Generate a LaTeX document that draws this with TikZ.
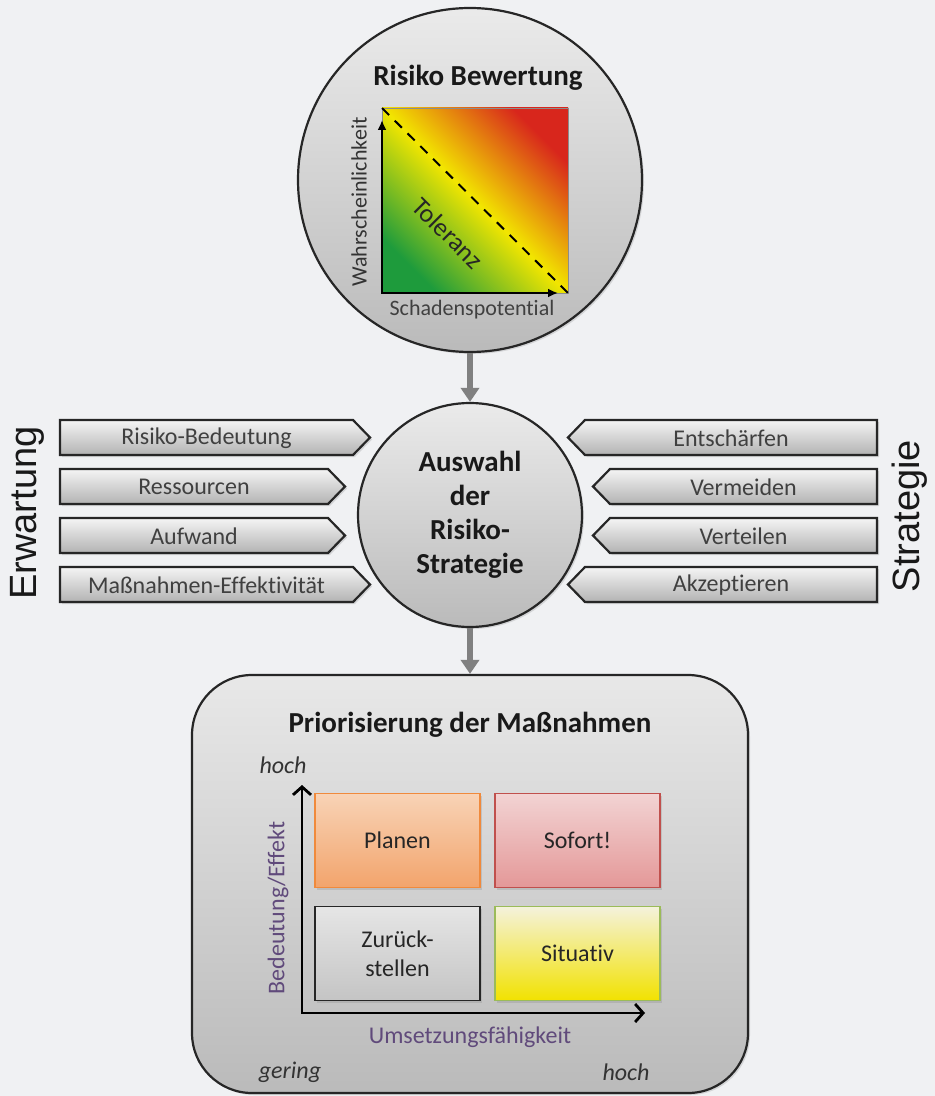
\documentclass[tikz,border=0pt]{standalone}
\usepackage{fontspec}
\setmainfont{Carlito}[Ligatures=NoCommon]
\newfontfamily\arialfont{Liberation Sans}
\usetikzlibrary{arrows.meta,shadows}

\definecolor{bgcol}{HTML}{F0F1F3}
\definecolor{riskred}{HTML}{D8261C}
\definecolor{riskyellow}{HTML}{F2E600}
\definecolor{riskgreen}{HTML}{1E9B3C}
\definecolor{axispurple}{HTML}{604A7B}
\definecolor{planborder}{HTML}{F08A3C}
\definecolor{plantop}{HTML}{F8D3B6}
\definecolor{planbottom}{HTML}{F2A46C}
\definecolor{nowborder}{HTML}{C0504D}
\definecolor{nowtop}{HTML}{F2D3D3}
\definecolor{nowbottom}{HTML}{E49898}
\definecolor{sitborder}{HTML}{9BBB59}
\definecolor{sittop}{HTML}{F4F2DC}
\definecolor{sitbottom}{HTML}{F2E200}

\tikzset{
  softshadow/.style={drop shadow={opacity=0.25,shadow xshift=1pt,shadow yshift=-1pt}},
  bubble/.style={circle, draw=black!85, line width=1.1pt, inner sep=0pt,
    top color=black!8, bottom color=black!27, softshadow},
  tagbox/.style={draw=black!85, line width=1.1pt, top color=black!4, bottom color=black!30, softshadow},
  tagtext/.style={font=\fontsize{12}{14}\selectfont, text=black!75},
  headline/.style={font=\fontsize{14.5}{17}\selectfont\bfseries, text=black!90},
  flowarrow/.style={draw=black!50, line width=3pt, -{Triangle[length=7pt,width=9pt]}},
  quad/.style={rectangle, line width=0.8pt, minimum width=82.5pt, minimum height=47pt,
    font=\fontsize{12}{14.5}\selectfont, text=black!85, align=center, softshadow},
  axislabel/.style={font=\fontsize{12}{14}\selectfont, text=axispurple},
  scalelabel/.style={font=\fontsize{12}{14}\selectfont\itshape, text=black!80},
  sidelabel/.style={font=\arialfont\fontsize{19}{22}\selectfont, text=black!90, rotate=90}
}

\begin{document}
\begin{tikzpicture}[x=0.5pt,y=-0.5pt]

    \fill[bgcol] (0,0) rectangle (935,1096);
    \useasboundingbox (0,0) rectangle (935,1096);

    % circles and box
    \node[bubble, minimum size=172pt] (risk) at (470,180) {};
    \node[bubble, minimum size=112pt, headline, align=center,
          font=\fontsize{14.5}{17}\selectfont\bfseries] (choice) at (470,515)
          {Auswahl\\der\\Risiko-\\Strategie};
    \node[draw=black!85, line width=1.1pt, rounded corners=30pt, inner sep=0pt,
          minimum width=278pt, minimum height=209pt,
          top color=black!9, bottom color=black!27, softshadow] (prio) at (470,884) {};

    \draw[flowarrow] (risk) -- (choice);
    \draw[flowarrow] (choice) -- (prio);

    % Risiko Bewertung
    \node[headline] (risktitle) at (478,78) {Risiko Bewertung};

    \coordinate (sqll) at (382,293);
    \coordinate (squr) at (568,108);
    \coordinate (squl) at (382,108);
    \coordinate (sqlr) at (568,293);
    \shade[bottom color=riskgreen, top color=riskred, middle color=riskyellow, shading angle=-45]
        (sqll) rectangle (squr);
    \draw[black!45, line width=0.4pt] (sqll) rectangle (squr);
    \draw[dashed, line width=1pt, dash pattern=on 5pt off 4pt] (squl) -- (sqlr);
    \draw[line width=1.1pt, {Latex[length=5pt,width=4.5pt]}-{Latex[length=5pt,width=4.5pt]}]
        (382,120) -- (sqll) -- (558,293);

    \node[rotate=90, font=\fontsize{11}{13}\selectfont, text=black!80] (prob) at (359,202) {Wahrscheinlichkeit};
    \node[font=\fontsize{11}{13}\selectfont, text=black!75] (damage) at (472,310) {Schadenspotential};
    \node[rotate=-45, font=\fontsize{13}{15}\selectfont, text=black!85] (tol) at (448,233) {Toleranz};

    % Erwartung
    \foreach \ty/\tb/\lab [count=\i] in {420/353/Risiko-Bedeutung, 469/328/Ressourcen,
                                         518/328/Aufwand, 567/353/Maßnahmen-Effektivität}
    {
        \draw[tagbox] (60,\ty) -- (\tb,\ty) -- ({\tb+17},{\ty+17.5}) -- (\tb,{\ty+35}) -- (60,{\ty+35}) -- cycle;
        \node[tagtext] (erw\i) at ({(60+\tb)/2},{\ty+18}) {\lab};
    }
    \node[sidelabel] (erwartung) at (27,513) {Erwartung};

    % Strategie
    \foreach \ty/\tb/\lab [count=\i] in {420/585/Entschärfen, 469/610/Vermeiden,
                                         518/610/Verteilen, 567/585/Akzeptieren}
    {
        \draw[tagbox] (877,\ty) -- (\tb,\ty) -- ({\tb-17},{\ty+17.5}) -- (\tb,{\ty+35}) -- (877,{\ty+35}) -- cycle;
        \node[tagtext] (str\i) at ({(877+\tb)/2},{\ty+18}) {\lab};
    }
    \node[sidelabel] (strategie) at (910,516) {Strategie};

    % Priorisierung
    \node[headline] (priotitle) at (470,725) {Priorisierung der Maßnahmen};

    \node[quad, draw=planborder, top color=plantop, bottom color=planbottom] (planen) at (397.5,840.5) {Planen};
    \node[quad, draw=nowborder, top color=nowtop, bottom color=nowbottom] (sofort) at (577.5,840.5) {Sofort!};
    \node[quad, draw=black!85, top color=black!10, bottom color=black!23] (zurueck) at (397.5,953.5) {Zurück-\\stellen};
    \node[quad, draw=sitborder, top color=sittop, bottom color=sitbottom] (situativ) at (577.5,953.5) {Situativ};

    \coordinate (origin) at (302,1013);
    \coordinate (ytop) at (302,785);
    \coordinate (xend) at (645,1013);
    \draw[line width=1.4pt, {Straight Barb[length=4pt,width=9pt]}-{Straight Barb[length=4pt,width=9pt]}]
        (ytop) -- (origin) -- (xend);

    \node[scalelabel] (yhigh) at (283,765) {hoch};
    \node[axislabel, rotate=90] (effect) at (278,908) {Bedeutung/Effekt};
    \node[axislabel] (feasible) at (470,1037) {Umsetzungsfähigkeit};
    \node[scalelabel] (low) at (290,1072) {gering};
    \node[scalelabel] (xhigh) at (626,1072) {hoch};

\end{tikzpicture}
\end{document}
